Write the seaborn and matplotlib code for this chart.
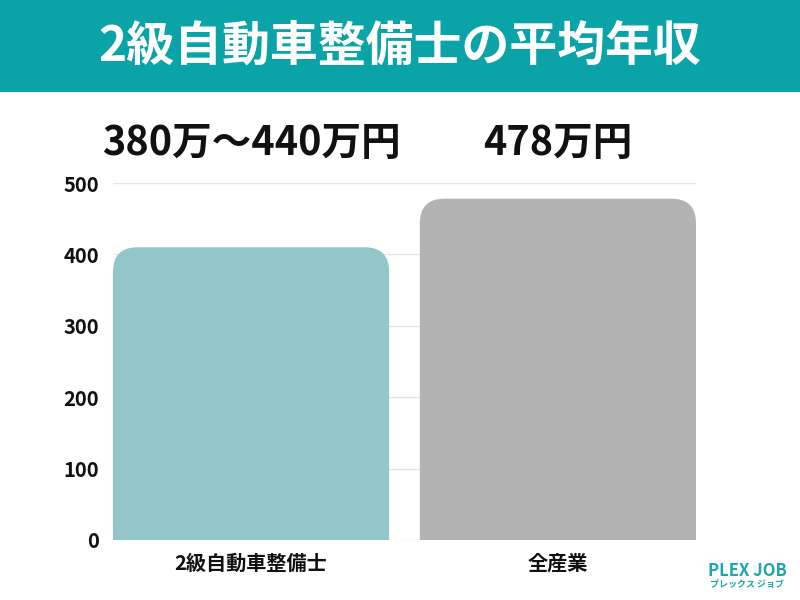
import pandas as pd
import seaborn as sns
import matplotlib.pyplot as plt
from matplotlib.patches import FancyBboxPatch, Rectangle

# --- DATA ---
categories = ['2級自動車整備士', '全産業']
values = [410, 478]
value_labels = ['380万〜440万円', '478万円']
bar_colors = ['#93C6C8', '#B3B3B3']
y_ticks = [0, 100, 200, 300, 400, 500]

df = pd.DataFrame({'category': categories, 'salary': values})

sns.set_theme(style='white')
plt.rcParams['font.family'] = ['Noto Sans CJK JP', 'DejaVu Sans']

fig = plt.figure(figsize=(8, 6), dpi=100)
ax = fig.add_axes([113 / 800, 0.1, 583 / 800, 357 / 600])

sns.barplot(data=df, x='category', y='salary', hue='category',
            palette=bar_colors, saturation=1, width=0.9, legend=False, ax=ax)

ax.set_xlim(-0.45, 1.45)
ax.set_ylim(0, 500)

# swap plain bars for bars with rounded tops
r = 0.08
aspect = (357 / 500) ** -1 / (583 / 1.9) ** -1  # y units per x unit
for p in list(ax.patches):
    x, w, h = p.get_x(), p.get_width(), p.get_height()
    fc = p.get_facecolor()
    p.remove()
    ax.add_patch(FancyBboxPatch((x, -r * aspect * 1.5), w, h + r * aspect * 1.5,
                                boxstyle=f'round,pad=0,rounding_size={r}',
                                mutation_aspect=aspect, fc=fc, ec='none', zorder=2))

for i, lab in enumerate(value_labels):
    ax.text(i, 555, lab, ha='center', va='center', fontsize=28.5,
            fontweight='bold', color='#111111', clip_on=False)

ax.set_yticks(y_ticks)
ax.yaxis.grid(True, color='#E6E6E6', lw=1)
ax.set_axisbelow(True)
sns.despine(ax=ax, left=True, bottom=True)
ax.set_xlabel('')
ax.set_ylabel('')
ax.tick_params(axis='y', labelsize=14.5, pad=10, length=0)
ax.tick_params(axis='x', labelsize=14.5, pad=9, length=0)
for t in ax.get_yticklabels() + ax.get_xticklabels():
    t.set_fontweight('bold')
    t.set_color('#111111')

# header band
fig.patches.append(Rectangle((0, 1 - 92 / 600), 1, 92 / 600, transform=fig.transFigure,
                             fc='#0AA3A8', ec='none', zorder=0))
fig.text(0.5, 1 - 46 / 600, '2級自動車整備士の平均年収', ha='center', va='center',
         fontsize=34.5, fontweight='bold', color='white')

# logo
fig.text(747 / 800, 1 - 571 / 600, 'PLEX JOB', ha='center', va='center',
         fontsize=12, fontweight='bold', color='#1AA8B0')
fig.text(747 / 800, 1 - 585 / 600, 'プレックス ジョブ', ha='center', va='center',
         fontsize=6.5, fontweight='bold', color='#1AA8B0')

fig.savefig('out.png', dpi=100, facecolor='white')
